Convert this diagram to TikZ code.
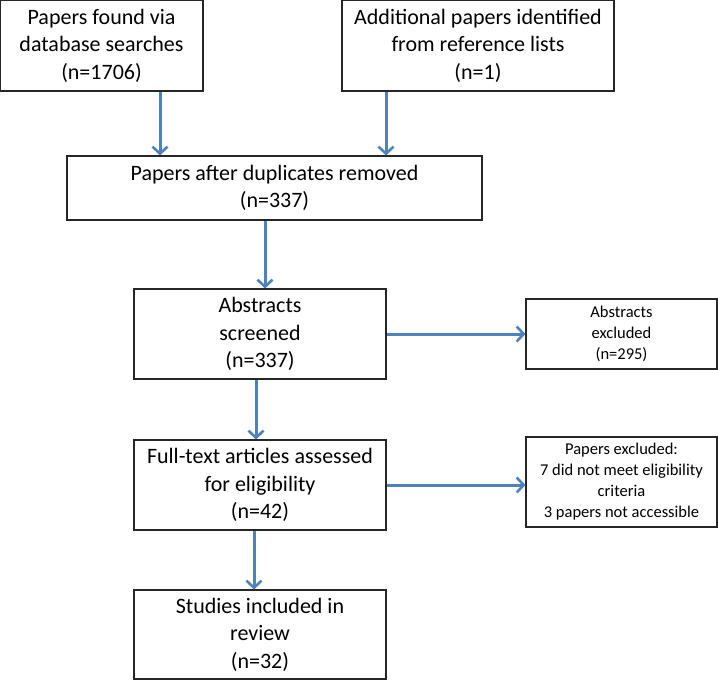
\documentclass[tikz,border=0pt]{standalone}
\usepackage{fontspec}
\setmainfont{Carlito}
\usetikzlibrary{arrows.meta, positioning, calc}
\definecolor{flowblue}{RGB}{79,129,189}

\begin{document}
\begin{tikzpicture}[x=1pt, y=-1pt,
  box/.style={draw=black!85, line width=1.1pt, align=center, inner sep=0pt, font=\fontsize{22}{27.5}\selectfont},
  smallbox/.style={box, font=\fontsize{16.5}{21}\selectfont},
  flow/.style={draw=flowblue, line width=3pt, -{Straight Barb[length=7pt, width=15pt, line width=2.6pt]}}]
\useasboundingbox (0,0) rectangle (718,681);
% boxes
\node [box, minimum width=203, minimum height=91] (found) at (101.5,45.5) {Papers found via\\database searches\\(n=1706)};
\node [box, minimum width=272, minimum height=91] (extra) at (478,45.5) {Additional papers identified\\from reference lists\\(n=1)};
\node [box, minimum width=415, minimum height=64] (dedup) at (274.5,188) {Papers after duplicates removed\\(n=337)};
\node [box, minimum width=252, minimum height=90] (screen) at (260,334) {Abstracts\\screened\\(n=337)};
\node [smallbox, minimum width=191, minimum height=70] (absex) at (621.5,334) {Abstracts\\excluded\\(n=295)};
\node [box, minimum width=252, minimum height=90] (fulltext) at (260,485) {Full-text articles assessed\\for eligibility\\(n=42)};
\node [smallbox, minimum width=191, minimum height=90] (papex) at (621.5,482) {Papers excluded:\\7 did not meet eligibility\\criteria\\3 papers not accessible};
\node [box, minimum width=252, minimum height=89] (incl) at (260,634.5) {Studies included in\\review\\(n=32)};
% arrows
\draw [flow] ([xshift=58.5]found.south) -- ([xshift=58.5]found.south |- dedup.north);
\draw [flow] ([xshift=-92]extra.south) -- ([xshift=-92]extra.south |- dedup.north);
\draw [flow] ([xshift=-9.5]dedup.south) -- ([xshift=-9.5]dedup.south |- screen.north);
\draw [flow] (screen.east) -- (screen.east -| absex.west);
\draw [flow] ([xshift=-4]screen.south) -- ([xshift=-4]screen.south |- fulltext.north);
\draw [flow] (fulltext.east) -- (fulltext.east -| papex.west);
\draw [flow] ([xshift=-6]fulltext.south) -- ([xshift=-6]fulltext.south |- incl.north);
\end{tikzpicture}
\end{document}
